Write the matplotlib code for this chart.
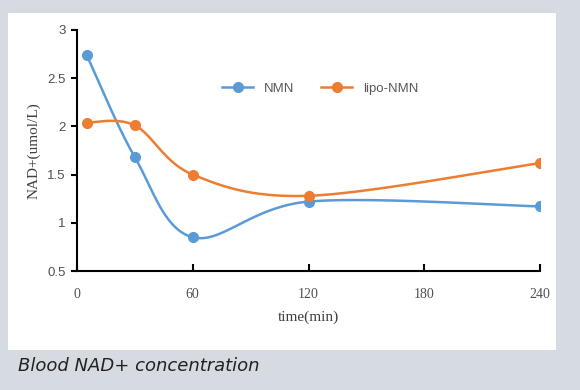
import numpy as np
import matplotlib.pyplot as plt
from matplotlib.patches import Rectangle

# data
time_min = [5, 30, 60, 120, 240]
nmn = [2.74, 1.68, 0.85, 1.22, 1.17]
lipo_nmn = [2.04, 2.01, 1.50, 1.28, 1.62]

x_ticks = [0, 60, 120, 180, 240]
y_ticks = [0.5, 1, 1.5, 2, 2.5, 3]

BLUE = '#5b9bd5'
ORANGE = '#ed7d31'


def smooth(xs, ys, steps=40):
    # Excel-style smoothed line: cubic bezier between points,
    # control points from neighbouring points (Catmull-Rom)
    p = np.column_stack([xs, ys]).astype(float)
    n = len(p)
    out = []
    for i in range(n - 1):
        p0 = p[i - 1] if i > 0 else p[i]
        p1 = p[i]
        p2 = p[i + 1]
        p3 = p[i + 2] if i + 2 < n else p[i + 1]
        c1 = p1 + (p2 - p0) / 6
        c2 = p2 - (p3 - p1) / 6
        t = np.linspace(0, 1, steps)[:, None]
        seg = ((1 - t)**3 * p1 + 3 * (1 - t)**2 * t * c1
               + 3 * (1 - t) * t**2 * c2 + t**3 * p2)
        out.append(seg if i == 0 else seg[1:])
    out = np.vstack(out)
    return out[:, 0], out[:, 1]


fig = plt.figure(figsize=(5.8, 3.9), dpi=100)
fig.patch.set_facecolor('#d6dae1')

# white chart panel
fig.patches.append(Rectangle((8 / 580, 1 - 350 / 390), 548 / 580, 337 / 390,
                             transform=fig.transFigure, facecolor='white',
                             edgecolor='none', zorder=-10))

ax = fig.add_axes([77 / 580, 1 - 271 / 390, 463 / 580, 241 / 390])
ax.set_facecolor('none')

for ys, c, name in [(nmn, BLUE, 'NMN'), (lipo_nmn, ORANGE, 'lipo-NMN')]:
    sx, sy = smooth(time_min, ys)
    ax.plot(sx, sy, color=c, lw=1.8, zorder=3)
    ax.plot(time_min, ys, 'o', color=c, ms=7, zorder=4)
    ax.plot([], [], '-o', color=c, lw=1.8, ms=7, label=name)

ax.set_xlim(0, 240)
ax.set_ylim(0.5, 3)
ax.set_xticks(x_ticks)
ax.set_yticks(y_ticks)
ax.set_xticklabels([str(v) for v in x_ticks], family='Liberation Serif',
                   color='#505050', fontsize=10)
ax.set_yticklabels([f'{v:g}' for v in y_ticks], family='Liberation Sans',
                   color='#505050', fontsize=9.5)
ax.tick_params(axis='x', direction='in', length=5, width=1.5, pad=12)
ax.tick_params(axis='y', direction='out', length=4, width=1.5, pad=4)

for s in ['top', 'right']:
    ax.spines[s].set_visible(False)
for s in ['left', 'bottom']:
    ax.spines[s].set_linewidth(1.5)

ax.set_xlabel('time(min)', family='Liberation Serif', fontsize=11,
              color='#404040', labelpad=7)
ax.set_ylabel('NAD+(umol/L)', family='Liberation Serif', fontsize=11,
              color='#404040', labelpad=5)

leg = ax.legend(loc='upper center', bbox_to_anchor=(0.525, 0.83), ncol=2,
                frameon=False, handlelength=2.4, columnspacing=2.0,
                prop={'family': 'Liberation Sans', 'size': 9.5})
for t in leg.get_texts():
    t.set_color('#595959')

fig.text(18 / 580, 1 - 366 / 390, 'Blood NAD+ concentration', fontsize=13,
         style='italic', family='DejaVu Sans', color='#222222', va='center')

fig.savefig('out.png', dpi=100, facecolor=fig.get_facecolor())
